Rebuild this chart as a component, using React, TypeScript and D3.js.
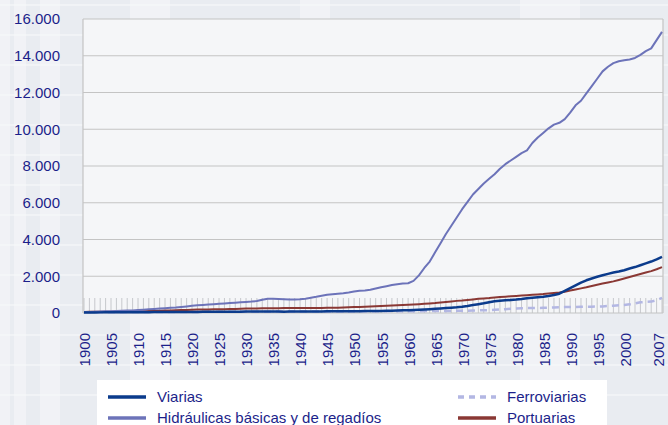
import React, { useEffect, useRef } from "react";
import * as d3 from "d3";

// years 1900..2007
const years: number[] = d3.range(1900, 2008);
const labelYears: number[] = [
  1900, 1905, 1910, 1915, 1920, 1925, 1930, 1935, 1940, 1945, 1950, 1955,
  1960, 1965, 1970, 1975, 1980, 1985, 1990, 1995, 2000, 2007,
];
const yTicks: number[] = [0, 2000, 4000, 6000, 8000, 10000, 12000, 14000, 16000];

const viarias: number[] = [
  30, 30, 32, 34, 35, 36, 38, 40, 40, 42,
  44, 45, 46, 48, 50, 50, 52, 54, 55, 56,
  58, 60, 62, 64, 65, 66, 68, 70, 72, 74,
  76, 78, 80, 80, 78, 76, 75, 74, 75, 78,
  80, 82, 84, 86, 88, 90, 92, 94, 96, 98,
  100, 102, 105, 108, 110, 115, 120, 125, 135, 145,
  155, 165, 180, 195, 210, 230, 250, 270, 290, 310,
  340, 380, 430, 480, 530, 590, 640, 670, 690, 710,
  730, 760, 800, 830, 860, 890, 930, 980, 1050, 1200,
  1350, 1500, 1650, 1780, 1880, 1970, 2050, 2130, 2200, 2260,
  2330, 2420, 2500, 2600, 2700, 2800, 2920, 3050,
];

const hidraulicas: number[] = [
  50, 60, 70, 80, 90, 100, 110, 120, 130, 140,
  160, 180, 200, 220, 240, 260, 280, 300, 330, 360,
  390, 420, 440, 460, 480, 500, 520, 540, 560, 580,
  600, 620, 650, 720, 780, 770, 760, 750, 740, 740,
  750, 780, 830, 880, 940, 990, 1020, 1050, 1080, 1120,
  1170, 1210, 1230, 1260, 1330, 1400, 1460, 1520, 1570, 1600,
  1620, 1750, 2050, 2450, 2800, 3300, 3800, 4300, 4750, 5200,
  5650, 6050, 6450, 6750, 7050, 7300, 7550, 7850, 8100, 8300,
  8500, 8700, 8850, 9250, 9550, 9800, 10050, 10250, 10350, 10550,
  10900, 11300, 11550, 11950, 12350, 12750, 13150, 13400, 13600, 13700,
  13750, 13800, 13880, 14050, 14250, 14400, 14850, 15300,
];

const ferroviarias: number[] = [
  40, 40, 42, 42, 44, 44, 46, 46, 48, 48,
  50, 50, 52, 52, 54, 54, 56, 56, 58, 58,
  60, 60, 62, 62, 64, 64, 66, 66, 68, 68,
  70, 70, 72, 72, 74, 74, 76, 76, 78, 78,
  80, 80, 82, 82, 84, 84, 86, 86, 88, 88,
  90, 90, 92, 92, 94, 94, 96, 96, 98, 98,
  100, 100, 100, 105, 105, 110, 110, 115, 115, 120,
  120, 125, 130, 140, 150, 160, 175, 190, 210, 230,
  250, 260, 265, 270, 275, 280, 290, 300, 310, 320,
  325, 330, 335, 340, 345, 350, 360, 380, 400, 420,
  440, 470, 520, 580, 600, 620, 700, 820,
];

const portuarias: number[] = [
  60, 62, 64, 66, 68, 70, 75, 80, 85, 90,
  95, 100, 105, 110, 120, 130, 140, 150, 160, 170,
  180, 185, 190, 195, 200, 205, 210, 215, 220, 230,
  240, 245, 250, 255, 260, 262, 264, 266, 268, 270,
  270, 272, 274, 276, 278, 280, 285, 290, 300, 310,
  320, 330, 340, 350, 365, 380, 395, 410, 425, 440,
  450, 465, 480, 500, 520, 540, 570, 600, 630, 660,
  680, 710, 740, 770, 790, 810, 840, 870, 890, 910,
  930, 950, 970, 990, 1010, 1030, 1060, 1090, 1120, 1160,
  1220, 1280, 1340, 1400, 1470, 1540, 1600, 1660, 1720, 1800,
  1880, 1960, 2040, 2120, 2200, 2280, 2380, 2500,
];

const seriesNames: string[] = [
  "Viarias",
  "Hidráulicas básicas y de regadíos",
  "Ferroviarias",
  "Portuarias",
];

const W = 668;
const H = 425;
const textColor = "#1c1f8a";

const App = () => {
  const ref = useRef<SVGSVGElement>(null);

  useEffect(() => {
    const svg = d3.select(ref.current);
    svg.selectAll("*").remove();

    const x = d3.scalePoint<number>().domain(years).range([84, 662]);
    const y = d3.scaleLinear().domain([0, 16000]).range([313, 19]);
    const fmt = d3.formatLocale({ decimal: ",", thousands: ".", grouping: [3], currency: ["", "€"] }).format(",d");

    // background
    svg.append("rect").attr("width", W).attr("height", H).attr("fill", "#e9ecf1");
    const bg = svg.append("g").attr("fill", "#f4f5f8");
    [[0, 0, 10, 425], [14, 0, 12, 425], [40, 0, 20, 425], [130, 0, 40, 425], [300, 0, 30, 425], [520, 0, 60, 425]].forEach(
      ([bx, by, bw, bh]) => bg.append("rect").attr("x", bx).attr("y", by).attr("width", bw).attr("height", bh).attr("opacity", 0.7)
    );
    for (let i = 0; i < 14; i++) {
      svg.append("rect").attr("x", 0).attr("y", i * 30 + 4).attr("width", W).attr("height", 2).attr("fill", "#f7f8fa").attr("opacity", 0.6);
    }

    // plot area
    svg.append("rect").attr("x", 83).attr("y", 19).attr("width", 580).attr("height", 294).attr("fill", "#f5f6f8");

    // year ticks inside plot
    svg.append("g").selectAll("line").data(years).join("line")
      .attr("x1", (d) => x(d)!).attr("x2", (d) => x(d)!)
      .attr("y1", y(0) - 15).attr("y2", y(0))
      .attr("stroke", "#c6c8cc").attr("stroke-width", 1);

    // grid
    svg.append("g").selectAll("line").data(yTicks).join("line")
      .attr("x1", 83).attr("x2", 663)
      .attr("y1", (d) => y(d)).attr("y2", (d) => y(d))
      .attr("stroke", "#c4c4c4").attr("stroke-width", 1.2);
    svg.append("line").attr("x1", 83).attr("x2", 83).attr("y1", 19).attr("y2", 313).attr("stroke", "#c4c4c4").attr("stroke-width", 1.2);
    svg.append("line").attr("x1", 663).attr("x2", 663).attr("y1", 19).attr("y2", 313).attr("stroke", "#c4c4c4").attr("stroke-width", 1.2);

    // y labels
    svg.append("g").selectAll("text").data(yTicks).join("text")
      .attr("x", 60).attr("y", (d) => y(d)).attr("dy", "0.36em")
      .attr("text-anchor", "end")
      .attr("font-family", "Liberation Sans, Arial, sans-serif")
      .attr("font-size", 15).attr("fill", textColor)
      .text((d) => fmt(d));

    // x labels
    svg.append("g").selectAll("text").data(labelYears).join("text")
      .attr("transform", (d) => `translate(${Math.min(x(d)! + 1, 659)},333) rotate(-90)`)
      .attr("dy", "0.36em")
      .attr("text-anchor", "end")
      .attr("font-family", "Liberation Sans, Arial, sans-serif")
      .attr("font-size", 15).attr("fill", textColor)
      .text((d) => d);

    const line = d3.line<number>().x((_, i) => x(years[i])!).y((d) => y(d));

    const series = [
      { name: seriesNames[2], values: ferroviarias, color: "#b3b7e3", width: 2.5, dash: "7,5" },
      { name: seriesNames[3], values: portuarias, color: "#8a3834", width: 2, dash: null },
      { name: seriesNames[1], values: hidraulicas, color: "#6c73b9", width: 2, dash: null },
      { name: seriesNames[0], values: viarias, color: "#0b3b8c", width: 2.5, dash: null },
    ];

    svg.append("g").selectAll("path").data(series).join("path")
      .attr("d", (d) => line(d.values))
      .attr("fill", "none")
      .attr("stroke", (d) => d.color)
      .attr("stroke-width", (d) => d.width)
      .attr("stroke-dasharray", (d) => d.dash)
      .attr("stroke-linejoin", "round");

    // legend
    svg.append("rect").attr("x", 97).attr("y", 380).attr("width", 510).attr("height", 50).attr("fill", "#ffffff");
    const legendItems = [
      { s: series[3], lx: 108, ly: 397 },
      { s: series[2], lx: 108, ly: 418 },
      { s: series[0], lx: 458, ly: 397 },
      { s: series[1], lx: 458, ly: 418 },
    ];
    const lg = svg.append("g");
    legendItems.forEach(({ s, lx, ly }) => {
      lg.append("line")
        .attr("x1", lx).attr("x2", lx + 38).attr("y1", ly).attr("y2", ly)
        .attr("stroke", s.color).attr("stroke-width", 3.5)
        .attr("stroke-dasharray", s.dash ? "6,5" : null);
      lg.append("text")
        .attr("x", lx + 49).attr("y", ly).attr("dy", "0.36em")
        .attr("font-family", "Liberation Sans, Arial, sans-serif")
        .attr("font-size", 15).attr("fill", textColor)
        .text(s.name);
    });
  }, []);

  return (
    <svg ref={ref} width={W} height={H} style={{ position: "fixed", top: 0, left: 0 }} />
  );
};

export default App;
